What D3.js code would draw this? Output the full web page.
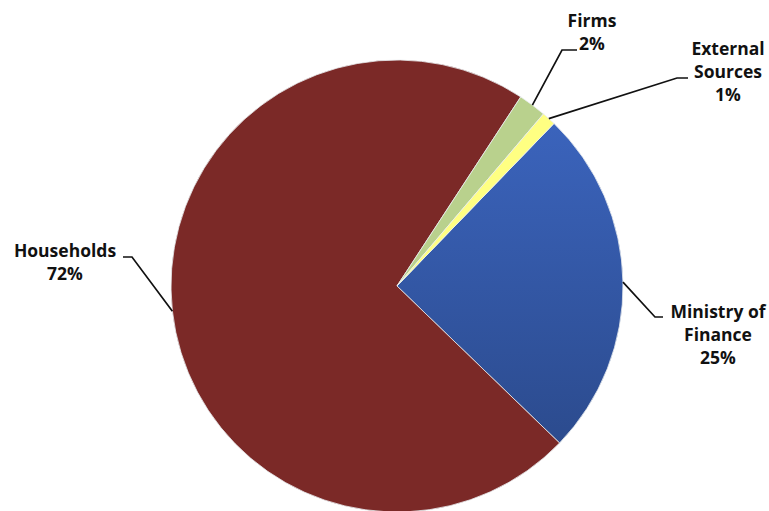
<!DOCTYPE html>
<html>
<head>
<meta charset="utf-8">
<script src="https://cdn.jsdelivr.net/npm/d3@7"></script>
<style>
  html, body { margin: 0; padding: 0; background: #fff; }
  svg { display: block; }
  text { font-family: "Open Sans", "Lato", "DejaVu Sans", sans-serif; font-weight: 700; fill: #111; }
</style>
</head>
<body>
<script>
// Funding sources, in drawing order (clockwise from the start angle)
const categories = ["Ministry of Finance", "Households", "Firms", "External Sources"];
const shares = [25, 72, 2, 1];
const labelLines = [["Ministry of", "Finance", "25%"], ["Households", "72%"], ["Firms", "2%"], ["External", "Sources", "1%"]];
const sliceColors = ["url(#blueGrad)", "#7b2927", "#b9d18d", "#ffff82"];

const W = 769, H = 511;
const cx = 397, cy = 286, R = 226;

// Where each callout bends and ends, and where its text sits
const callouts = [
  { elbow: [655, 317], end: [663, 317], text: [718, 318] },
  { elbow: [132, 257], end: [123, 257], text: [65, 257] },
  { elbow: [562, 50],  end: [577, 50],  text: [592, 27] },
  { elbow: [677, 78],  end: [688, 78],  text: [728, 55] }
];
const lineGap = 23;

const svg = d3.select("body").append("svg").attr("width", W).attr("height", H);

const defs = svg.append("defs");
// Gradient coordinates are in the pie group's local (centred) space
const grad = defs.append("linearGradient").attr("id", "blueGrad")
  .attr("gradientUnits", "userSpaceOnUse")
  .attr("x1", 0).attr("y1", -R * 0.75).attr("x2", 0).attr("y2", R * 0.75);
grad.append("stop").attr("offset", "0%").attr("stop-color", "#3b64bd");
grad.append("stop").attr("offset", "100%").attr("stop-color", "#2b4a8c");

const data = categories.map((c, i) => ({ name: c, value: shares[i], lines: labelLines[i], color: sliceColors[i], callout: callouts[i] }));

const start = 44 * Math.PI / 180;
const pie = d3.pie().sort(null).value(d => d.value).startAngle(start).endAngle(start + 2 * Math.PI);
const arcs = pie(data);
const arc = d3.arc().innerRadius(0).outerRadius(R);
const edgeArc = d3.arc().innerRadius(R).outerRadius(R);

const g = svg.append("g").attr("transform", `translate(${cx},${cy})`);

g.selectAll("path.slice").data(arcs).join("path")
  .attr("class", "slice")
  .attr("d", arc)
  .attr("fill", d => d.data.color)
  .attr("stroke", "#e8ecef")
  .attr("stroke-width", 0.8);

// Callout leader lines
svg.selectAll("polyline.leader").data(arcs).join("polyline")
  .attr("class", "leader")
  .attr("fill", "none")
  .attr("stroke", "#111")
  .attr("stroke-width", 1.7)
  .attr("points", d => {
    const p = edgeArc.centroid(d);
    const c = d.data.callout;
    return [[p[0] + cx, p[1] + cy], c.elbow, c.end].map(q => q.join(",")).join(" ");
  });

// Callout text
const labels = svg.selectAll("text.label").data(arcs).join("text")
  .attr("class", "label")
  .attr("text-anchor", "middle")
  .attr("font-size", 17.5);
labels.selectAll("tspan").data(d => d.data.lines.map(t => ({ t, c: d.data.callout })))
  .join("tspan")
  .attr("x", d => d.c.text[0])
  .attr("y", (d, i) => d.c.text[1] + i * lineGap)
  .text(d => d.t);
</script>
</body>
</html>
